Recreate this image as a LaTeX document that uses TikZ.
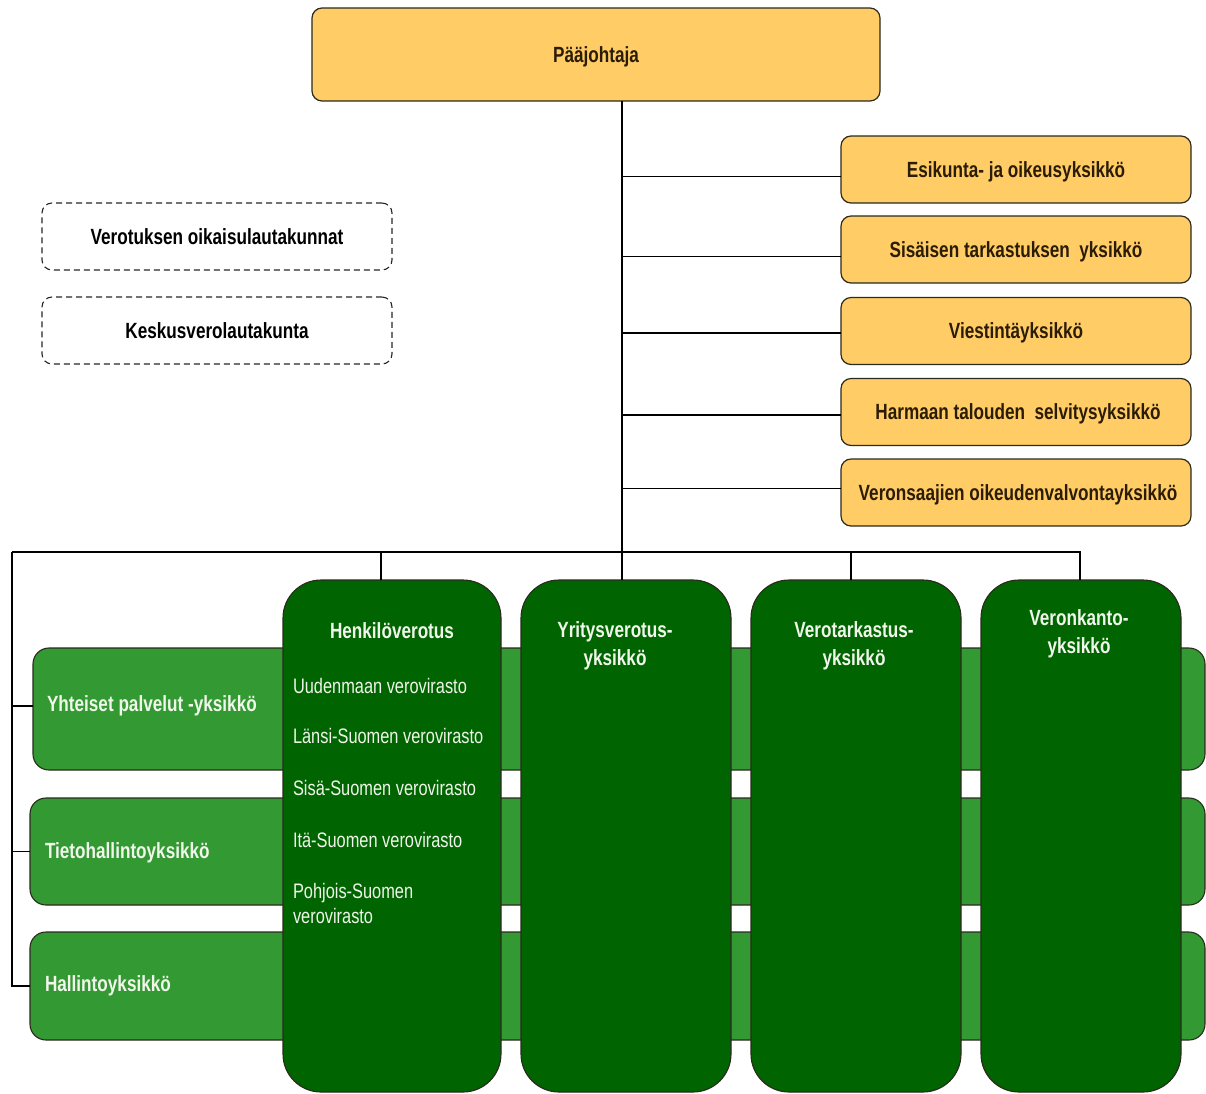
\documentclass[tikz,border=0pt]{standalone}
\usepackage{fontspec}
\setmainfont{Liberation Sans}[FakeStretch=0.78]
\definecolor{orfill}{HTML}{FFCC66}
\definecolor{lgreen}{HTML}{339933}
\definecolor{dgreen}{HTML}{006400}
\definecolor{edgecol}{HTML}{2A2A1E}
\definecolor{ortext}{HTML}{2B1C05}
\definecolor{lighttext}{HTML}{F0F6EA}
\begin{document}
\begin{tikzpicture}[x=1pt,y=-1pt,
  every node/.style={inner sep=0pt, outer sep=0pt},
  orangebox/.style={draw=edgecol, line width=1.2pt, fill=orfill, rounded corners=10pt,
    font=\bfseries\fontsize{22}{26}\selectfont, text=ortext, text depth=0pt},
  dashbox/.style={draw=black!85, line width=1.1pt, dash pattern=on 6pt off 4pt,
    rounded corners=10pt, font=\bfseries\fontsize{22}{26}\selectfont, text=black, text depth=0pt},
  rowbox/.style={draw=edgecol, line width=1.1pt, fill=lgreen, rounded corners=16pt},
  colbox/.style={draw=edgecol, line width=1.1pt, fill=dgreen, rounded corners=38pt},
  greenlabel/.style={font=\bfseries\fontsize{22}{28}\selectfont, text=lighttext, align=center},
  subitem/.style={font=\fontsize{21}{25}\selectfont, text=lighttext, align=left, anchor=west},
  conn/.style={line width=1.3pt, black}]
\useasboundingbox (0,0) rectangle (1206,1093);

% top
\node[orangebox, minimum width=568pt, minimum height=93pt] (paa) at (596,54.5) {Pääjohtaja};

% staff units
\node[orangebox, minimum width=350pt, minimum height=67pt] (o1) at (1016,169.5) {Esikunta- ja oikeusyksikkö};
\node[orangebox, minimum width=350pt, minimum height=67pt] (o2) at (1016,249.5) {Sisäisen tarkastuksen\ \ yksikkö};
\node[orangebox, minimum width=350pt, minimum height=67pt] (o3) at (1016,331) {Viestintäyksikkö};
\node[orangebox, minimum width=350pt, minimum height=67pt] (o4) at (1016,412) {\hspace*{4pt}Harmaan talouden\ \ selvitysyksikkö};
\node[orangebox, minimum width=350pt, minimum height=67pt] (o5) at (1016,492.5) {\hspace*{4pt}Veronsaajien oikeudenvalvontayksikkö};

% dashed boards
\node[dashbox, minimum width=350pt, minimum height=67pt] (d1) at (217,236.5) {Verotuksen oikaisulautakunnat};
\node[dashbox, minimum width=350pt, minimum height=67pt] (d2) at (217,330.5) {Keskusverolautakunta};

% rows
\node[rowbox, minimum width=1172pt, minimum height=122pt] (r1) at (619,709) {};
\node[rowbox, minimum width=1175pt, minimum height=107pt] (r2) at (617.5,851.5) {};
\node[rowbox, minimum width=1175pt, minimum height=108pt] (r3) at (617.5,986) {};
\node[greenlabel, anchor=west] (r1l) at (47,706) {Yhteiset palvelut -yksikkö};
\node[greenlabel, anchor=west] (r2l) at (45,853) {Tietohallintoyksikkö};
\node[greenlabel, anchor=west] (r3l) at (45,986) {Hallintoyksikkö};

% columns
\node[colbox, minimum width=218pt, minimum height=512pt] (henk) at (392,836) {};
\node[colbox, minimum width=210pt, minimum height=512pt] (yri) at (626,836) {};
\node[colbox, minimum width=210pt, minimum height=512pt] (vtar) at (856,836) {};
\node[colbox, minimum width=200pt, minimum height=512pt] (vkan) at (1081,836) {};

\node[greenlabel] (henkl) at (392,631) {Henkilöverotus};
\node[greenlabel] (yril) at (615,646) {Yritysverotus-\\yksikkö};
\node[greenlabel] (vtarl) at (854,646) {Verotarkastus-\\yksikkö};
\node[greenlabel] (vkanl) at (1079,634) {Veronkanto-\\yksikkö};

\node[subitem] (s1) at (293,686) {Uudenmaan verovirasto};
\node[subitem] (s2) at (293,736) {Länsi-Suomen verovirasto};
\node[subitem] (s3) at (293,788) {Sisä-Suomen verovirasto};
\node[subitem] (s4) at (293,840) {Itä-Suomen verovirasto};
\node[subitem] (s5) at (293,903.5) {Pohjois-Suomen\\verovirasto};

% connectors
\coordinate (tk) at (622,552);
\coordinate (bl) at (12,552);
\coordinate (hd) at (381,552);
\coordinate (vd) at (851,552);
\coordinate (kd) at (1080,552);
\draw[conn] (paa.south -| tk) -- (yri.north -| tk);
\draw[conn] ([yshift=-7pt]o1.west -| tk) -- ([yshift=-7pt]o1.west);
\draw[conn] ([yshift=-7pt]o2.west -| tk) -- ([yshift=-7pt]o2.west);
\draw[conn] ([yshift=-2pt]o3.west -| tk) -- ([yshift=-2pt]o3.west);
\draw[conn] ([yshift=-3pt]o4.west -| tk) -- ([yshift=-3pt]o4.west);
\draw[conn] ([yshift=4pt]o5.west -| tk) -- ([yshift=4pt]o5.west);
\draw[conn] (bl) -- (kd) -- (kd |- vkan.north);
\draw[conn] (hd) -- (hd |- henk.north);
\draw[conn] (vd) -- (vd |- vtar.north);
\draw[conn] (bl) -- (bl |- r3.west) -- (r3.west);
\draw[conn] (bl |- r1l.west) -- (r1.west |- r1l.west);
\draw[conn] (bl |- r2.west) -- (r2.west);
\end{tikzpicture}
\end{document}
